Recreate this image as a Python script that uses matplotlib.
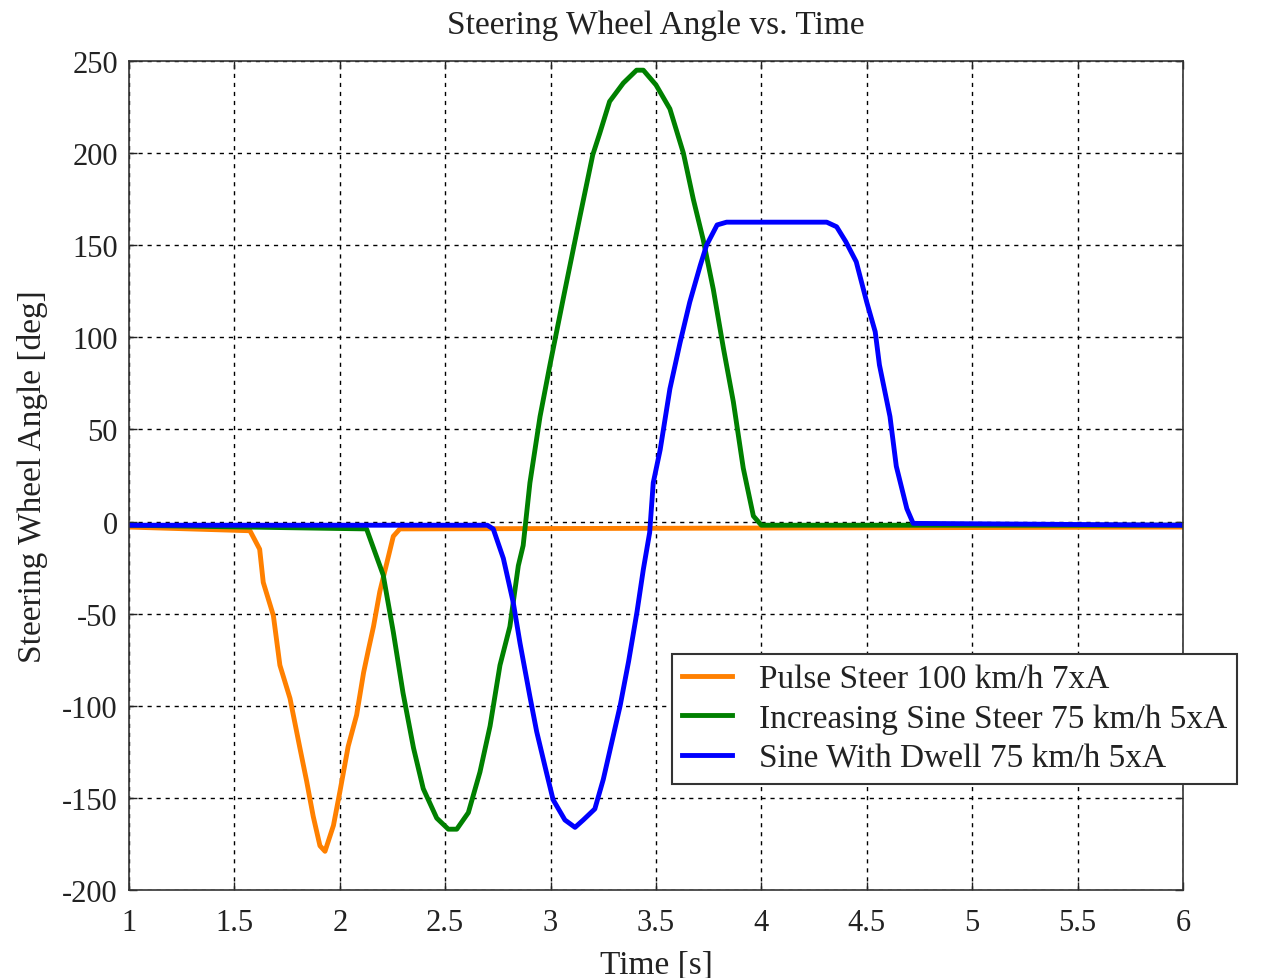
#!/usr/bin/env python
"""Steering wheel angle vs. time for three manoeuvres."""

# Third party modules.
import matplotlib
matplotlib.use("Agg")
import matplotlib.pyplot as plt

# Globals and constants variables.
pulseTime_s = [1.0, 1.574, 1.62, 1.637, 1.685, 1.716, 1.764, 1.811, 1.843, 1.874, 1.906, 1.93,
               1.97, 2.0, 2.04, 2.08, 2.113, 2.137, 2.16, 2.19, 2.22, 2.254, 2.285, 6.0]
pulseAngle_deg = [-3, -5, -15, -33, -51, -78, -96, -123, -141, -160, -176, -179,
                  -165, -147, -122, -105, -82, -69, -57, -38, -24, -8, -4, -3]

sineTime_s = [1.0, 2.127, 2.206, 2.254, 2.30, 2.35, 2.396, 2.46, 2.515, 2.555, 2.61, 2.665,
              2.713, 2.76, 2.807, 2.847, 2.87, 2.902, 2.95, 2.997, 3.06, 3.14, 3.20, 3.234,
              3.28, 3.345, 3.408, 3.44, 3.50, 3.566, 3.63, 3.677, 3.724, 3.772, 3.82, 3.867,
              3.914, 3.962, 4.0, 6.0]
sineAngle_deg = [-2, -4, -29, -60, -93, -123, -145, -161, -167, -167, -158, -136,
                 -111, -78, -57, -24, -13, 21, 57, 85, 121, 166, 199, 211,
                 228, 238, 245, 245, 237, 224, 200, 175, 153, 126, 94, 65,
                 29, 3, -2, -2]

dwellTime_s = [1.0, 2.70, 2.728, 2.776, 2.823, 2.855, 2.902, 2.934, 2.98, 3.012, 3.068, 3.116,
               3.155, 3.21, 3.25, 3.28, 3.33, 3.37, 3.41, 3.44, 3.47, 3.487, 3.52, 3.566,
               3.614, 3.66, 3.71, 3.74, 3.79, 3.835, 4.31, 4.357, 4.40, 4.45, 4.50, 4.54,
               4.56, 4.61, 4.64, 4.69, 4.72, 6.0]
dwellAngle_deg = [-2, -2, -4, -20, -44, -66, -95, -114, -136, -151, -162, -166,
                  -162, -156, -140, -125, -100, -76, -49, -26, -6, 21, 39, 72,
                  97, 119, 139, 150, 161, 162.5, 162.5, 160, 152, 141, 119, 103,
                  85, 57, 30, 7, -1, -2]

labels = ["Pulse Steer 100 km/h 7xA",
          "Increasing Sine Steer 75 km/h 5xA",
          "Sine With Dwell 75 km/h 5xA"]
colors = ["#ff8000", "#008000", "#0000ff"]

xTicks = [1, 1.5, 2, 2.5, 3, 3.5, 4, 4.5, 5, 5.5, 6]
xTickLabels = ["1", "1.5", "2", "2.5", "3", "3.5", "4", "4.5", "5", "5.5", "6"]
yTicks = [-200, -150, -100, -50, 0, 50, 100, 150, 200, 250]


def run():
    plt.rcParams["font.family"] = ["Liberation Serif", "DejaVu Serif"]
    plt.rcParams["axes.unicode_minus"] = False

    fig = plt.figure(figsize=(12.73, 9.79), dpi=100)
    ax = fig.add_axes([0.1013, 0.0899, 0.828, 0.8468])

    series = [(pulseTime_s, pulseAngle_deg), (sineTime_s, sineAngle_deg), (dwellTime_s, dwellAngle_deg)]
    for (time_s, angle_deg), label, color in zip(series, labels, colors):
        ax.plot(time_s, angle_deg, color=color, linewidth=3.5, label=label)

    ax.set_xlim(1, 6)
    ax.set_ylim(-200, 250)
    ax.set_xticks(xTicks)
    ax.set_xticklabels(xTickLabels)
    ax.set_yticks(yTicks)
    ax.grid(True, color="black", linestyle=(0, (3, 3.5)), linewidth=1.0)
    ax.tick_params(direction="in", top=True, right=True, length=6, width=1,
                   labelsize=22, colors="#222222")
    ax.tick_params(axis="x", pad=13)
    ax.tick_params(axis="y", pad=8)
    for spine in ax.spines.values():
        spine.set_linewidth(1.2)
        spine.set_color("#333333")

    ax.set_title("Steering Wheel Angle vs. Time", fontsize=24, pad=20, color="#222222")
    ax.set_xlabel("Time [s]", fontsize=24, labelpad=9, color="#222222")
    ax.set_ylabel("Steering Wheel Angle [deg]", fontsize=24, labelpad=10, color="#222222")

    leg = ax.legend(loc="upper left", bbox_to_anchor=(672 / 1273, 1 - 655 / 979),
                    bbox_transform=fig.transFigure, fontsize=24, handlelength=1.5,
                    handletextpad=0.8, labelspacing=0.27, borderpad=0.3,
                    fancybox=False, framealpha=1.0, borderaxespad=0)
    leg.get_frame().set_edgecolor("#333333")
    leg.get_frame().set_linewidth(1.5)
    for text in leg.get_texts():
        text.set_color("#222222")

    fig.savefig("out.png", dpi=100)


if __name__ == '__main__':
    run()
